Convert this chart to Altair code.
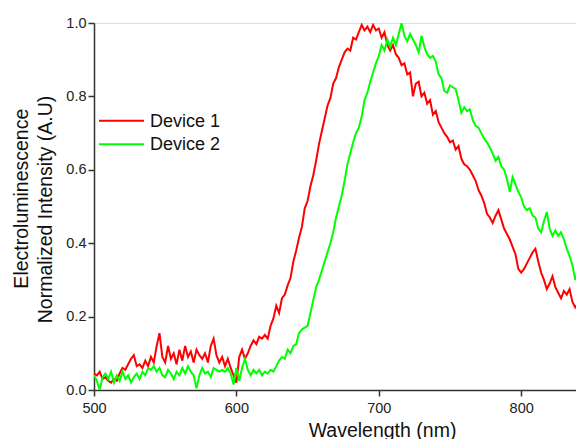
import altair as alt
import pandas as pd

wavelength = list(range(500, 845, 2))

device1 = [
    0.045, 0.04, 0.05, 0.03, 0.035, 0.025, 0.02, 0.03, 0.025, 0.045,
    0.06, 0.055, 0.07, 0.085, 0.095, 0.065, 0.07, 0.06, 0.08, 0.065,
    0.09, 0.075, 0.12, 0.155, 0.09, 0.075, 0.12, 0.085, 0.1, 0.07,
    0.11, 0.08, 0.12, 0.09, 0.105, 0.075, 0.11, 0.095, 0.085, 0.1,
    0.075, 0.12, 0.14, 0.095, 0.075, 0.09, 0.065, 0.085, 0.06, 0.04,
    0.02, 0.09, 0.11, 0.085, 0.1, 0.12, 0.135, 0.125, 0.145, 0.14,
    0.15, 0.14, 0.175, 0.195, 0.23, 0.21, 0.25, 0.26, 0.285, 0.305,
    0.35, 0.38, 0.415, 0.445, 0.495, 0.515, 0.555, 0.585, 0.625, 0.67,
    0.705, 0.74, 0.775, 0.795, 0.835, 0.85, 0.88, 0.9, 0.92, 0.93,
    0.925, 0.96, 0.955, 0.975, 0.995, 0.98, 0.99, 0.975, 0.995, 0.98,
    0.985, 0.96, 0.975, 0.94, 0.925, 0.94, 0.915, 0.905, 0.885, 0.89,
    0.86, 0.865, 0.8, 0.835, 0.84, 0.8, 0.81, 0.78, 0.79, 0.75,
    0.76, 0.73, 0.715, 0.7, 0.69, 0.675, 0.68, 0.655, 0.665, 0.63,
    0.615, 0.61, 0.6, 0.585, 0.57, 0.545, 0.53, 0.51, 0.48, 0.47,
    0.455, 0.475, 0.49, 0.465, 0.44, 0.425, 0.41, 0.39, 0.37, 0.33,
    0.32, 0.33, 0.345, 0.36, 0.375, 0.385, 0.35, 0.32, 0.3, 0.275,
    0.29, 0.31, 0.28, 0.265, 0.25, 0.27, 0.26, 0.275, 0.24, 0.225,
    0.235, 0.2, 0.185,
]

device2 = [
    0.04, 0.025, 0.0, 0.035, 0.045, 0.03, 0.05, 0.02, 0.04, 0.025,
    0.05, 0.03, 0.04, 0.02, 0.035, 0.045, 0.03, 0.05, 0.04, 0.06,
    0.055, 0.065, 0.05, 0.06, 0.04, 0.035, 0.055, 0.045, 0.03, 0.05,
    0.04, 0.06, 0.045, 0.065, 0.05, 0.04, 0.005, 0.04, 0.06, 0.045,
    0.05, 0.035, 0.06, 0.055, 0.05, 0.055, 0.05, 0.06, 0.045, 0.015,
    0.06, 0.025, 0.06, 0.085, 0.055, 0.04, 0.055, 0.045, 0.055, 0.04,
    0.05, 0.045, 0.055, 0.05, 0.065, 0.08, 0.09, 0.085, 0.11, 0.1,
    0.12, 0.125, 0.155, 0.165, 0.17, 0.175, 0.21, 0.245, 0.28, 0.3,
    0.325, 0.35, 0.375, 0.4, 0.43, 0.47, 0.5, 0.53, 0.57, 0.615,
    0.645, 0.675, 0.7, 0.715, 0.745, 0.79, 0.81, 0.84, 0.865, 0.89,
    0.91, 0.94, 0.925, 0.955, 0.935, 0.96, 0.94, 0.97, 1.0, 0.965,
    0.95, 0.97, 0.955, 0.94, 0.92, 0.965, 0.935, 0.915, 0.905, 0.91,
    0.895, 0.86, 0.85, 0.815, 0.81, 0.83, 0.825, 0.82, 0.79, 0.755,
    0.77, 0.76, 0.765, 0.735, 0.72, 0.715, 0.7, 0.685, 0.675, 0.66,
    0.645, 0.625, 0.635, 0.61, 0.6, 0.575, 0.54, 0.58, 0.56, 0.54,
    0.525, 0.5, 0.49, 0.495, 0.475, 0.47, 0.44, 0.43, 0.46, 0.485,
    0.44, 0.42, 0.435, 0.42, 0.43, 0.41, 0.385, 0.365, 0.34, 0.3,
    0.33, 0.355, 0.34,
]

series = ["Device 1", "Device 2"]
colors = ["#ff0000", "#00ff00"]
x_ticks = [500, 600, 700, 800]
y_ticks = [0.0, 0.2, 0.4, 0.6, 0.8, 1.0]
y_title = ["\u200b\u00a0\u00a0\u00a0\u00a0Electroluminescence", "Normalized Intensity (A.U)"]
x_title = "Wavelength (nm)"

df = pd.DataFrame({
    "wl": wavelength * 2,
    "v": device1 + device2,
    "s": [series[0]] * len(wavelength) + [series[1]] * len(wavelength),
})
legend_df = pd.DataFrame({"s": series})

FONT = "Liberation Sans"
color_enc = alt.Color("s:N", scale=alt.Scale(domain=series, range=colors), legend=None)

lines = alt.Chart(df).mark_line(strokeWidth=2, clip=True).encode(
    x=alt.X("wl:Q",
            scale=alt.Scale(domain=[500, 838.5], nice=False, zero=False),
            axis=alt.Axis(values=x_ticks, format="d", title=x_title,
                          titleX=288, titleY=46, titleBaseline="alphabetic",
                          titleAlign="center", titleFontSize=19.5, titleFontWeight="normal",
                          titleFont=FONT, titleColor="#111",
                          labelFont=FONT, labelFontSize=14.5, labelColor="#222",
                          labelPadding=5, tickSize=6, tickWidth=1.5, tickColor="#333",
                          domainColor="#333", domainWidth=1.5, grid=False, labelFlush=False)),
    y=alt.Y("v:Q",
            scale=alt.Scale(domain=[0, 1], nice=False, zero=True),
            axis=alt.Axis(values=y_ticks, format=".1f",
                          title=y_title,
                          titleAngle=270, titleX=-67, titleY=186, titleBaseline="alphabetic",
                          titleAlign="center", titleFontSize=19.5, titleFontWeight="normal",
                          titleFont=FONT, titleColor="#111", titleLineHeight=24,
                          labelFont=FONT, labelFontSize=14.5, labelColor="#222",
                          labelPadding=2, tickSize=6, tickWidth=1.5, tickColor="#333",
                          domainColor="#333", domainWidth=1.5, grid=False, labelFlush=False)),
    color=color_enc,
)

legend_y = alt.Y("s:N", scale=alt.Scale(type="point", domain=series, range=[97.7, 121.3], padding=0),
                 axis=None)

legend_lines = alt.Chart(legend_df).mark_rule(strokeWidth=2).encode(
    x=alt.value(5), x2=alt.value(50), y=legend_y, color=color_enc,
)
legend_text = alt.Chart(legend_df).mark_text(
    align="left", baseline="middle", font=FONT, fontSize=18, color="#111", dy=1,
).encode(
    x=alt.value(56), y=legend_y, text="s:N",
)

chart = alt.layer(lines, legend_lines, legend_text).resolve_scale(y="independent").properties(
    width=482, height=367,
    padding={"left": 86, "top": 15, "right": 0, "bottom": 49},
    autosize=alt.AutoSizeParams(type="none"),
).configure_view(stroke=None).configure(background="white")

chart.save("out.html", embed_options={"renderer": "svg", "actions": False})
